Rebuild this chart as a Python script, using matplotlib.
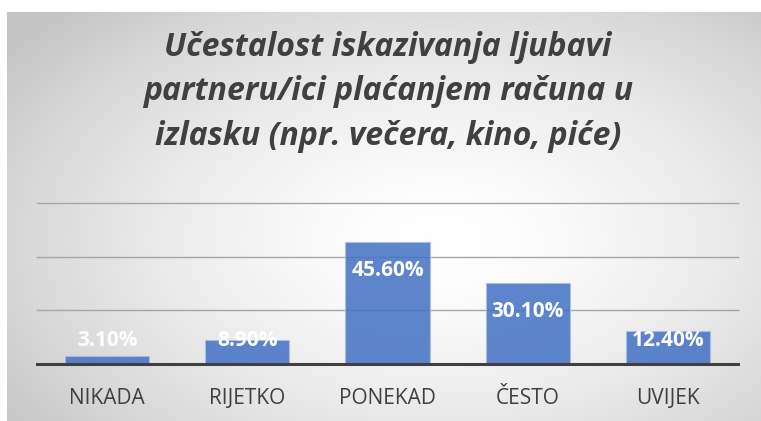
import matplotlib
matplotlib.use("Agg")
import matplotlib.pyplot as plt
import numpy as np

# data
categories = ["NIKADA", "RIJETKO", "PONEKAD", "ČESTO", "UVIJEK"]
values = [3.1, 8.9, 45.6, 30.1, 12.4]
labels = ["3.10%", "8.90%", "45.60%", "30.10%", "12.40%"]
title = "Učestalost iskazivanja ljubavi\npartneru/ici plaćanjem računa u\nizlasku (npr. večera, kino, piće)"

W, H = 761, 421
fig = plt.figure(figsize=(W / 100, H / 100), dpi=100)
fig.patch.set_facecolor("white")

# radial gradient background of the chart area
bg = fig.add_axes([7 / W, 0, 1 - 7 / W, 1 - 12 / H])
xx, yy = np.meshgrid(np.arange(7, W), np.arange(12, H))
d = np.sqrt(((xx - 440) / 430.0) ** 2 + ((yy - 240) / 260.0) ** 2)
g = 1 - 0.23 * np.clip(d, 0, 1.25) ** 1.6 / 1.25 ** 1.6
bg.imshow(np.dstack([g, g, g]), aspect="auto", interpolation="bilinear")
bg.axis("off")

ax = fig.add_axes([37 / W, (H - 364) / H, 701 / W, 161 / H])
ax.patch.set_alpha(0)
x = np.arange(len(categories))
ax.bar(x, values, width=0.6, color="#4472C4", alpha=0.86,
       edgecolor="#a9bfe6", linewidth=0.8, zorder=2)
ax.set_xlim(-0.5, len(categories) - 0.5)
ax.set_ylim(0, 60)
ax.set_yticks([20, 40, 60])
ax.yaxis.grid(True, color="#a6a6a6", linewidth=1, zorder=0)
for gl in ax.get_ygridlines():
    gl.set_clip_on(False)
ax.tick_params(axis="y", left=False, labelleft=False)
ax.tick_params(axis="x", bottom=False, pad=14)
ax.set_xticks(x)
ax.set_xticklabels(categories, fontsize=15, color="#404040", family="Open Sans")
for s in ["top", "right", "left"]:
    ax.spines[s].set_visible(False)
ax.spines["bottom"].set_color("#404040")
ax.spines["bottom"].set_linewidth(2.2)
ax.spines["bottom"].set_zorder(3)

for xi, v, lab in zip(x, values, labels):
    ax.text(xi, max(v - 10.7, 8.6), lab, ha="center", va="center",
            color="white", fontsize=15, fontweight="bold",
            family="Open Sans", zorder=4)

fig.text(388 / W, 1 - 92 / H, title, ha="center", va="center",
         fontsize=23, fontweight="bold", fontstyle="italic",
         color="#404040", family="Open Sans", linespacing=1.45)

fig.savefig("out.png", dpi=100)
